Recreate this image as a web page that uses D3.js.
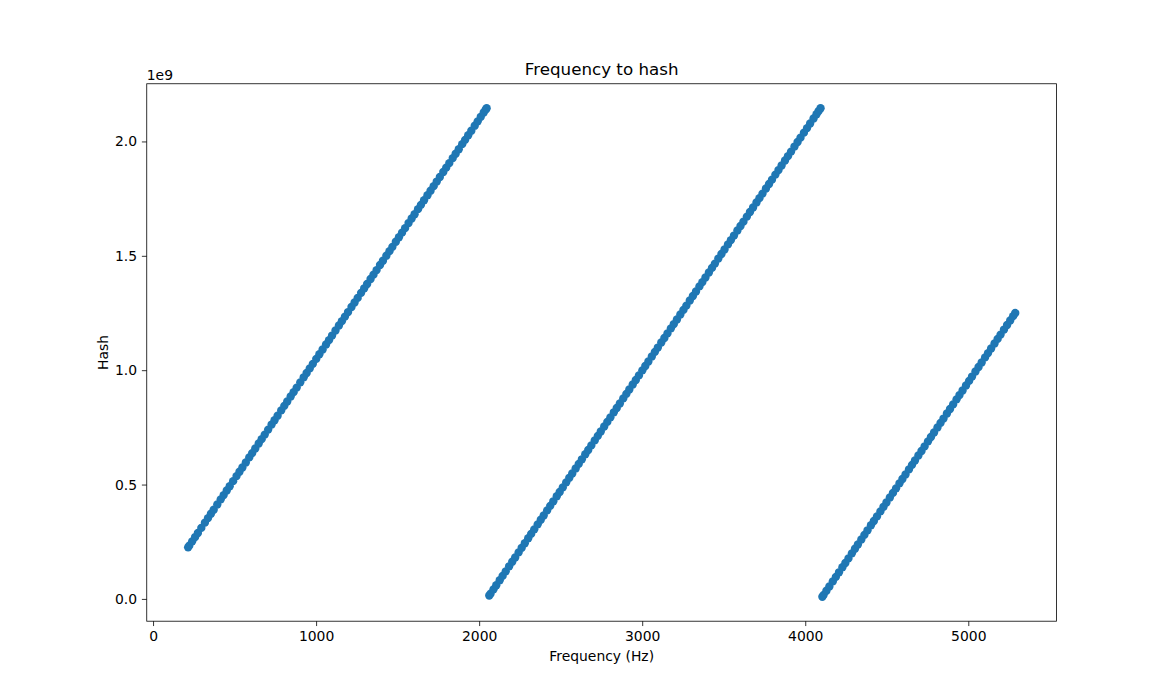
<!DOCTYPE html>
<html><head><meta charset="utf-8">
<script src="https://cdn.jsdelivr.net/npm/d3@7"></script>
<style>body{margin:0;background:#fff;} text{font-family:"DejaVu Sans",sans-serif;fill:#000;}</style>
</head><body>
<svg id="chart" width="1174" height="698"></svg>
<script>
// Frequency (Hz) and hash (units of 1e9), three visible bands
const freq1 = [215,222,240,258,275,296,318,337,355,372,394,415,433,452,470,491,512,530,548,569,590,608,627,648,666,685,706,727,745,764,786,805,823,844,862,881,903,924,942,961,980,1001,1020,1040,1061,1079,1098,1119,1140,1158,1177,1196,1217,1236,1255,1276,1295,1313,1334,1352,1371,1392,1410,1431,1450,1468,1489,1508,1527,1546,1567,1586,1604,1625,1643,1662,1683,1702,1721,1740,1759,1780,1798,1817,1838,1856,1875,1896,1914,1933,1952,1973,1991,2010,2028,2040,2046];
const hash1 = [0.2254,0.2328,0.2517,0.2705,0.2884,0.3104,0.3335,0.3534,0.3723,0.3901,0.4131,0.4352,0.4540,0.4740,0.4928,0.5149,0.5369,0.5558,0.5746,0.5967,0.6187,0.6375,0.6575,0.6795,0.6984,0.7183,0.7403,0.7623,0.7812,0.8011,0.8242,0.8441,0.8630,0.8850,0.9039,0.9238,0.9469,0.9689,0.9878,1.0077,1.0276,1.0496,1.0696,1.0905,1.1126,1.1314,1.1514,1.1734,1.1954,1.2143,1.2342,1.2541,1.2761,1.2961,1.3160,1.3380,1.3579,1.3768,1.3988,1.4177,1.4376,1.4597,1.4785,1.5005,1.5205,1.5393,1.5614,1.5813,1.6012,1.6211,1.6432,1.6631,1.6820,1.7040,1.7229,1.7428,1.7648,1.7847,1.8046,1.8246,1.8445,1.8665,1.8854,1.9053,1.9273,1.9462,1.9661,1.9881,2.0070,2.0269,2.0469,2.0689,2.0878,2.1077,2.1266,2.1392,2.1454];
const freq2 = [2062,2070,2088,2105,2126,2144,2163,2184,2203,2221,2242,2261,2280,2301,2319,2338,2359,2378,2396,2417,2436,2455,2476,2494,2513,2534,2553,2571,2592,2611,2630,2651,2669,2688,2709,2728,2746,2767,2786,2805,2826,2844,2863,2884,2903,2921,2942,2961,2980,3001,3019,3038,3059,3078,3096,3117,3136,3155,3176,3194,3213,3234,3253,3271,3292,3311,3330,3351,3369,3388,3409,3428,3446,3467,3486,3505,3526,3544,3563,3584,3603,3621,3642,3661,3680,3701,3719,3738,3759,3778,3796,3817,3836,3855,3876,3894,3913,3934,3953,3971,3992,4011,4030,4051,4069,4082,4094];
const hash2 = [0.0147,0.0231,0.0419,0.0598,0.0818,0.1007,0.1206,0.1426,0.1625,0.1814,0.2034,0.2234,0.2433,0.2653,0.2842,0.3041,0.3261,0.3460,0.3649,0.3869,0.4069,0.4268,0.4488,0.4677,0.4876,0.5096,0.5295,0.5484,0.5704,0.5904,0.6103,0.6323,0.6512,0.6711,0.6931,0.7130,0.7319,0.7539,0.7739,0.7938,0.8158,0.8347,0.8546,0.8766,0.8966,0.9154,0.9374,0.9574,0.9773,0.9993,1.0182,1.0381,1.0601,1.0801,1.0989,1.1210,1.1409,1.1608,1.1828,1.2017,1.2216,1.2436,1.2636,1.2824,1.3045,1.3244,1.3443,1.3663,1.3852,1.4051,1.4271,1.4471,1.4659,1.4880,1.5079,1.5278,1.5498,1.5687,1.5886,1.6106,1.6306,1.6494,1.6715,1.6914,1.7113,1.7333,1.7522,1.7721,1.7942,1.8141,1.8330,1.8550,1.8749,1.8948,1.9168,1.9357,1.9556,1.9777,1.9976,2.0165,2.0385,2.0584,2.0783,2.1003,2.1192,2.1329,2.1454];
const freq3 = [4105,4113,4130,4148,4169,4188,4207,4228,4246,4265,4286,4305,4323,4344,4363,4382,4403,4421,4440,4461,4480,4498,4519,4538,4557,4578,4596,4615,4636,4655,4673,4694,4713,4732,4753,4771,4790,4811,4830,4848,4869,4888,4907,4928,4946,4965,4986,5005,5023,5044,5063,5082,5103,5121,5140,5161,5180,5198,5219,5238,5257,5275,5288];
const hash3 = [0.0094,0.0178,0.0357,0.0545,0.0765,0.0965,0.1164,0.1384,0.1573,0.1772,0.1992,0.2192,0.2380,0.2601,0.2800,0.2999,0.3219,0.3408,0.3607,0.3827,0.4027,0.4215,0.4436,0.4635,0.4834,0.5054,0.5243,0.5442,0.5662,0.5862,0.6050,0.6271,0.6470,0.6669,0.6889,0.7078,0.7277,0.7497,0.7697,0.7885,0.8106,0.8305,0.8504,0.8724,0.8913,0.9112,0.9333,0.9532,0.9721,0.9941,1.0140,1.0339,1.0559,1.0748,1.0947,1.1168,1.1367,1.1556,1.1776,1.1975,1.2174,1.2363,1.2499];
const xTicks = [0,1000,2000,3000,4000,5000];
const yTicks = [0.0,0.5,1.0,1.5,2.0];
const yOffsetLabel = "1e9";
const title = "Frequency to hash";
const xLabel = "Frequency (Hz)";
const yLabel = "Hash";

const W = 1174, H = 698;
const L = 146.75, R = 1056.6, T = 83.76, B = 621.2;
const pts = [];
[[freq1,hash1],[freq2,hash2],[freq3,hash3]].forEach(([f,h]) => f.forEach((v,i) => pts.push({f:v,h:h[i]})));

function padded(ext){ const d = ext[1]-ext[0]; return [ext[0]-0.05*d, ext[1]+0.05*d]; }
const x = d3.scaleLinear().domain(padded(d3.extent(pts,d=>d.f))).range([L,R]);
const y = d3.scaleLinear().domain(padded(d3.extent(pts,d=>d.h))).range([B,T]);

const svg = d3.select("#chart");
svg.append("rect").attr("width",W).attr("height",H).attr("fill","#fff");

const fs = 13.9;
const gx = svg.append("g").attr("transform",`translate(0,${B})`)
  .call(d3.axisBottom(x).tickValues(xTicks).tickFormat(d3.format("d")).tickSize(4.86).tickPadding(4.86));
const gy = svg.append("g").attr("transform",`translate(${L},0)`)
  .call(d3.axisLeft(y).tickValues(yTicks).tickFormat(d3.format(".1f")).tickSize(4.86).tickPadding(4.86));
[gx,gy].forEach(g=>{
  g.select(".domain").remove();
  g.selectAll(".tick line").attr("stroke","#000").attr("stroke-width",0.8);
  g.selectAll(".tick text").attr("font-size",fs).attr("font-family","DejaVu Sans").attr("fill","#000");
});

const clipId="plotclip";
svg.append("clipPath").attr("id",clipId).append("rect").attr("x",L).attr("y",T).attr("width",R-L).attr("height",B-T);
svg.append("g").attr("clip-path",`url(#${clipId})`).selectAll("circle").data(pts).join("circle")
  .attr("cx",d=>x(d.f)).attr("cy",d=>y(d.h)).attr("r",4.17)
  .attr("fill","#1f77b4");

svg.append("rect").attr("x",L).attr("y",T).attr("width",R-L).attr("height",B-T)
  .attr("fill","none").attr("stroke","#000").attr("stroke-width",0.8);

svg.append("text").attr("x",(L+R)/2).attr("y",T-8.6).attr("text-anchor","middle").attr("font-size",16.7).text(title);
svg.append("text").attr("x",(L+R)/2).attr("y",661).attr("text-anchor","middle").attr("font-size",fs).text(xLabel);
svg.append("text").attr("transform",`translate(108,${(T+B)/2}) rotate(-90)`).attr("text-anchor","middle").attr("font-size",fs).text(yLabel);
svg.append("text").attr("x",L).attr("y",T-4).attr("font-size",fs).text(yOffsetLabel);
</script>
</body></html>
